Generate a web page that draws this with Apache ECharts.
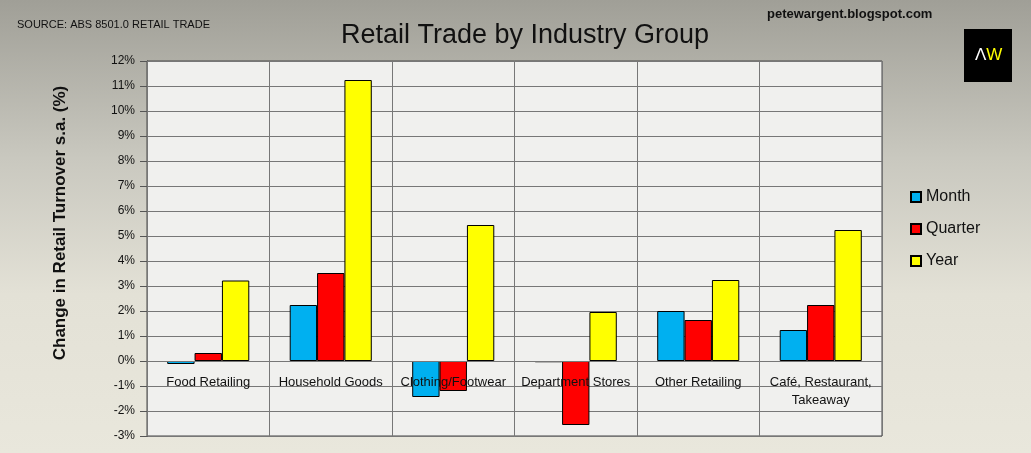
<!DOCTYPE html>
<html><head><meta charset="utf-8">
<script src="https://cdn.jsdelivr.net/npm/echarts@6/dist/echarts.min.js"></script>
<style>
html,body{margin:0;padding:0;}
body{width:1031px;height:453px;background:linear-gradient(to bottom,#a09f97 0%,#c9c8bf 35%,#e3e1d6 65%,#e9e7dc 100%);overflow:hidden;}
#c{width:1031px;height:453px;}
</style></head>
<body><div id="c"></div>
<script>
const categories = ['Food Retailing','Household Goods','Clothing/Footwear','Department Stores','Other Retailing','Café, Restaurant,\nTakeaway'];
const month   = [-0.12, 2.24, -1.44, -0.05, 2.0, 1.24];
const quarter = [0.32, 3.52, -1.2, -2.56, 1.64, 2.24];
const year    = [3.22, 11.24, 5.44, 1.96, 3.24, 5.24];
const seriesNames = ['Month','Quarter','Year'];
const colors = ['#00b0f0','#ff0000','#ffff00'];

const chart = echarts.init(document.getElementById('c'), null, {renderer:'canvas'});
const font = '"Liberation Sans", Arial, sans-serif';
const mk = (name, data, color) => ({
  name, type:'bar', data, barGap:'0%', barCategoryGap:'33%',
  itemStyle:{color, borderColor:'#000', borderWidth:1}
});
chart.setOption({
  backgroundColor:'transparent',
  animation:false,
  textStyle:{fontFamily:font},
  title:{text:'Retail Trade by Industry Group', left:520, textAlign:'center', top:17,
    textStyle:{fontSize:27, fontWeight:'normal', color:'#111', fontFamily:font}},
  legend:{orient:'vertical', left:905, top:184, itemWidth:10, itemHeight:10, itemGap:16,
    icon:'rect', textStyle:{fontSize:16, color:'#111'}, data:seriesNames},
  grid:{left:147, top:61, right:149, bottom:17, outerBoundsMode:'none', containLabel:false,
    show:true, backgroundColor:'#f0f0ee', borderColor:'#444', borderWidth:1},
  xAxis:{type:'category', data:categories, position:'bottom', offset:-75, z:5,
    axisLine:{onZero:false, lineStyle:{color:'#777'}},
    axisTick:{show:false},
    axisLabel:{color:'#111', fontSize:13, margin:12, lineHeight:18, interval:0},
    splitLine:{show:true, lineStyle:{color:'#777', width:1}}},
  yAxis:{type:'value', min:-3, max:12, interval:1,
    axisLine:{show:true, lineStyle:{color:'#444'}},
    axisTick:{show:true, inside:false, length:7, lineStyle:{color:'#555'}},
    axisLabel:{formatter:'{value}%', color:'#111', fontSize:12, margin:12},
    splitLine:{show:true, lineStyle:{color:'#777', width:1}}},
  series:[mk(seriesNames[0], month, colors[0]), mk(seriesNames[1], quarter, colors[1]), mk(seriesNames[2], year, colors[2])],
  graphic:[
    {type:'text', x:60, y:223, rotation:Math.PI/2, style:{text:'Change in Retail Turnover s.a. (%)', font:'bold 17px '+font, fill:'#111', align:'center', verticalAlign:'middle'}},
    {type:'text', left:17, top:19, style:{text:'SOURCE: ABS 8501.0 RETAIL TRADE', font:'11px '+font, fill:'#111'}},
    {type:'text', left:767, top:8, style:{text:'petewargent.blogspot.com', font:'bold 13px '+font, fill:'#111'}},
    {type:'rect', left:964, top:29, shape:{width:48, height:53}, style:{fill:'#000'}},
    {type:'text', left:975, top:47, style:{rich:{a:{fill:'#fff', fontSize:17, fontFamily:font}, b:{fill:'#ffff00', fontSize:17, fontFamily:font}}, text:'{a|Λ}{b|W}'}}
  ]
});
</script></body></html>
